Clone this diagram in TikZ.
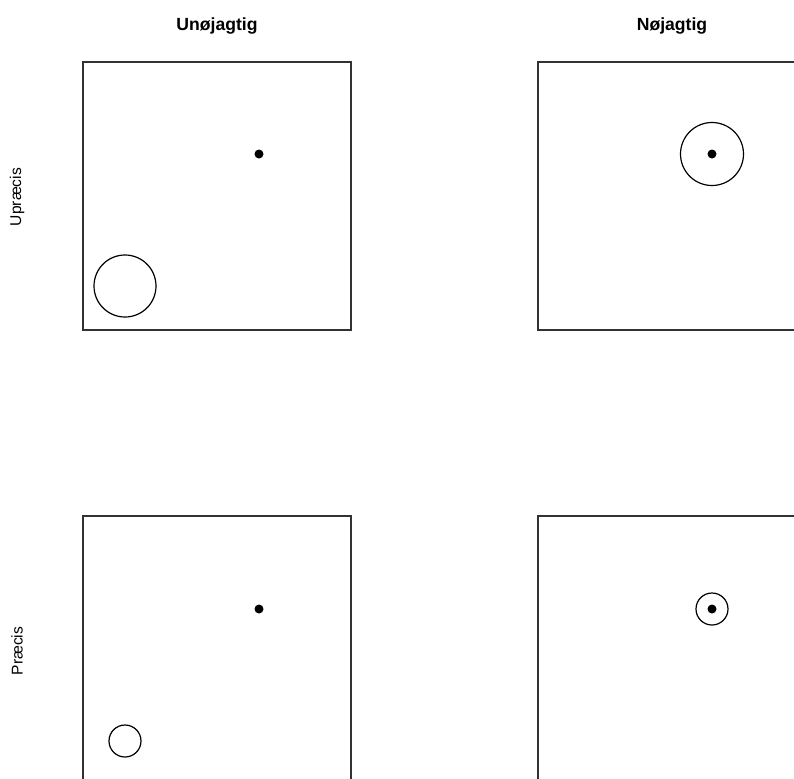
\documentclass[tikz,border=0pt]{standalone}
\usepackage{fontspec}
\setmainfont{Liberation Sans}
\usetikzlibrary{positioning}
\definecolor{frame}{RGB}{50,50,50}
\tikzset{
  panel/.style={draw=frame,line width=.8pt},
  spread/.style={draw=black,line width=.6pt},
  hit/.style={fill=black},
  coltitle/.style={font=\bfseries\fontsize{8.8}{10}\selectfont},
  rowtitle/.style={font=\fontsize{7.8}{9}\selectfont,rotate=90}
}
\newcommand{\targetpanel}[2]{%
  \draw[panel] (#1,#2) rectangle ++(268,268);
}

\begin{document}
\begin{tikzpicture}[x=.5pt,y=-.5pt]
    \useasboundingbox (0,0) rectangle (794,778);
    \clip (0,0) rectangle (794,778);
    % column and row titles
    \node[coltitle] (inacc) at (217,26) {Unøjagtig};
    \node[coltitle] (acc) at (672,26) {Nøjagtig};
    \node[rowtitle] (imprec) at (17,197) {Upræcis};
    \node[rowtitle] (prec) at (17,651) {Præcis};
    % the four panels
    \targetpanel{83}{62}
    \targetpanel{538}{62}
    \targetpanel{83}{516}
    \targetpanel{538}{516}
    % true value
    \fill[hit] (259,154) circle (4.5);
    \fill[hit] (712,154) circle (4.5);
    \fill[hit] (259,609) circle (4.5);
    \fill[hit] (712,609) circle (4.5);
    % spread of the measurements
    \draw[spread] (125,286) circle (31);
    \draw[spread] (712,154) circle (31.5);
    \draw[spread] (125,741) circle (16);
    \draw[spread] (712,609) circle (16);
  \end{tikzpicture}
\end{document}
